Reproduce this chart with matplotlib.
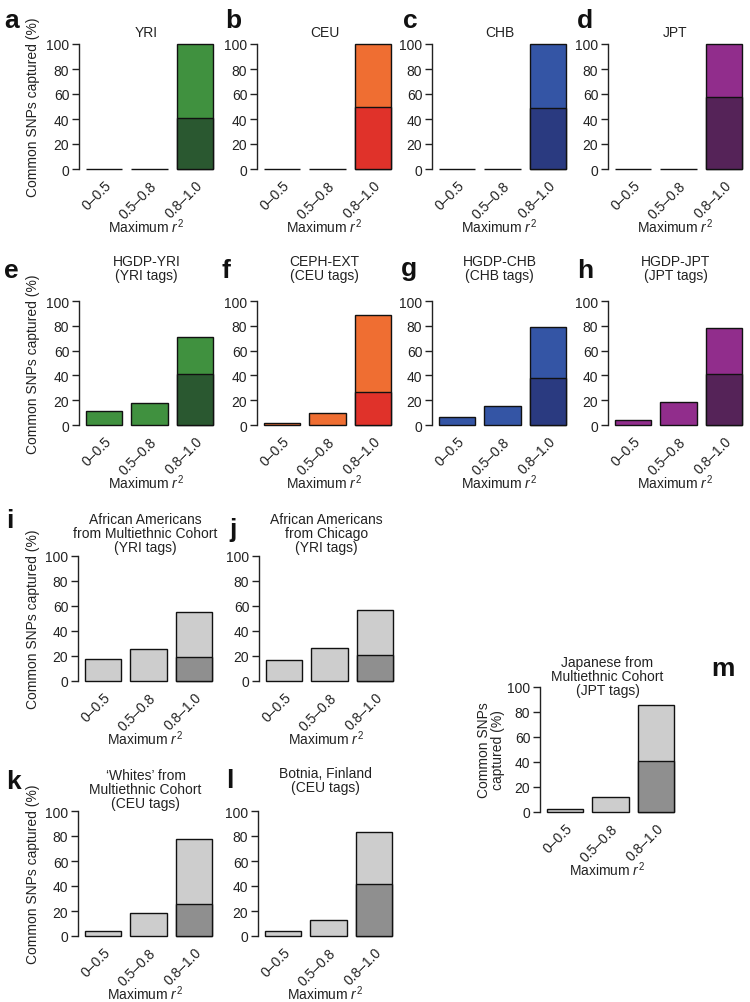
import matplotlib
matplotlib.use('Agg')
import matplotlib.pyplot as plt

plt.rcParams['font.family'] = ['Liberation Sans', 'DejaVu Sans']
plt.rcParams['font.size'] = 10
plt.rcParams['mathtext.fontset'] = 'custom'
plt.rcParams['mathtext.rm'] = 'Liberation Sans'
plt.rcParams['mathtext.it'] = 'Liberation Sans:italic'

W, H = 750, 1003

categories = ['0–0.5', '0.5–0.8', '0.8–1.0']

# total % captured per r2 bin, and the dark (lower) part of the 0.8-1.0 bar
yri_total = [0, 0, 100];          yri_dark = 41
ceu_total = [0, 0, 100];          ceu_dark = 50
chb_total = [0, 0, 100];          chb_dark = 49
jpt_total = [0, 0, 100];          jpt_dark = 58
hgdp_yri_total = [11, 18, 71];    hgdp_yri_dark = 41.5
ceph_ext_total = [2, 10, 89];     ceph_ext_dark = 27
hgdp_chb_total = [6.5, 15.5, 79]; hgdp_chb_dark = 38
hgdp_jpt_total = [4, 18.5, 78];   hgdp_jpt_dark = 41.5
aa_mec_total = [18, 26, 55.5];    aa_mec_dark = 19
aa_chi_total = [17, 26.5, 56.5];  aa_chi_dark = 21
wh_mec_total = [4, 18.5, 78];     wh_mec_dark = 26
botnia_total = [4, 13, 83];       botnia_dark = 41.5
jp_mec_total = [2.5, 12, 86];     jp_mec_dark = 41

green = ('#40913f', '#2a5830')
orange = ('#ef6e32', '#e0322a')
blue = ('#3455a5', '#2a3a80')
purple = ('#912d8c', '#552358')
gray = ('#cdcdcd', '#8f8f8f')
edge = '#111111'

fig = plt.figure(figsize=(W / 100, H / 100), dpi=100)


def panel(left, top, bottom, total, dark, cols, title, title_gap,
          ylabel=None, ylabel_right=None):
    ax = fig.add_axes([left / W, 1 - bottom / H, 135 / W, (bottom - top) / H])
    x = range(len(categories))
    ax.bar(x, total, width=0.8, color=cols[0], edgecolor=edge,
           linewidth=1.0, clip_on=False, zorder=2)
    ax.bar([2], [dark], width=0.8, color=cols[1], edgecolor=edge,
           linewidth=1.0, clip_on=False, zorder=3)
    ax.set_xlim(-0.55, 2.42)
    ax.set_ylim(0, 100)
    for s in ['top', 'right', 'bottom']:
        ax.spines[s].set_visible(False)
    ax.spines['left'].set_bounds(0, 100)
    ax.spines['left'].set_linewidth(1.0)
    ax.spines['left'].set_color('#222222')
    ax.set_yticks(range(0, 101, 20))
    ax.tick_params(axis='y', length=5, width=1.0, pad=2, labelsize=10,
                   color='#222222', labelcolor='#222222')
    ax.set_xticks(list(x))
    ax.set_xticklabels(categories, rotation=45, ha='right', va='top',
                       rotation_mode='anchor', color='#222222')
    ax.tick_params(axis='x', length=0, pad=6.5, labelsize=10)
    ax.set_xlabel('Maximum $\\mathit{r}^2$', color='#222222')
    ax.xaxis.set_label_coords(0.5, -47 / (bottom - top))
    ax.annotate(title, xy=(0.5, 1), xycoords='axes fraction',
                xytext=(0, title_gap * 0.72), textcoords='offset points',
                ha='center', va='bottom', linespacing=1.0, color='#222222')
    if ylabel:
        ax.set_ylabel(ylabel, color='#222222', linespacing=1.0)
        ax.yaxis.set_label_coords(-(left - ylabel_right) / 135, 0.5)
    return ax


ylab = 'Common SNPs captured (%)'
panel(79, 45, 170, yri_total, yri_dark, green, 'YRI', 5, ylab, 40)
panel(257, 45, 170, ceu_total, ceu_dark, orange, 'CEU', 5)
panel(432, 45, 170, chb_total, chb_dark, blue, 'CHB', 5)
panel(608, 45, 170, jpt_total, jpt_dark, purple, 'JPT', 5)

panel(79, 302, 426, hgdp_yri_total, hgdp_yri_dark, green,
      'HGDP-YRI\n(YRI tags)', 19, ylab, 40)
panel(257, 302, 426, ceph_ext_total, ceph_ext_dark, orange,
      'CEPH-EXT\n(CEU tags)', 19)
panel(432, 302, 426, hgdp_chb_total, hgdp_chb_dark, blue,
      'HGDP-CHB\n(CHB tags)', 19)
panel(608, 302, 426, hgdp_jpt_total, hgdp_jpt_dark, purple,
      'HGDP-JPT\n(JPT tags)', 19)

panel(78, 557, 682, aa_mec_total, aa_mec_dark, gray,
      'African Americans\nfrom Multiethnic Cohort\n(YRI tags)', 2, ylab, 40)
panel(259, 557, 682, aa_chi_total, aa_chi_dark, gray,
      'African Americans\nfrom Chicago\n(YRI tags)', 2)

panel(78, 812, 937, wh_mec_total, wh_mec_dark, gray,
      '‘Whites’ from\nMultiethnic Cohort\n(CEU tags)', 1, ylab, 40)
panel(258, 812, 937, botnia_total, botnia_dark, gray,
      'Botnia, Finland\n(CEU tags)', 17)

panel(540, 688, 813, jp_mec_total, jp_mec_dark, gray,
      'Japanese from\nMultiethnic Cohort\n(JPT tags)', -10,
      'Common SNPs\ncaptured (%)', 505)

letters = [('a', 4, 28), ('b', 225, 28), ('c', 403, 28), ('d', 577, 28),
           ('e', 4, 278), ('f', 222, 278), ('g', 401, 276), ('h', 577, 278),
           ('i', 6, 528), ('j', 229, 537), ('k', 6, 789), ('l', 226, 788),
           ('m', 711, 676)]
for s, lx, ly in letters:
    fig.text(lx / W, 1 - ly / H, s, fontsize=19, fontweight='bold',
             ha='left', va='baseline', color='#111111')

fig.savefig('out.png', dpi=100)
